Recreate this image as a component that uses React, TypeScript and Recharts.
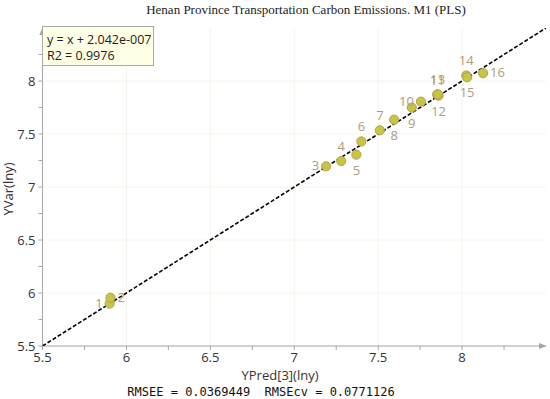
import { ScatterChart, Scatter, XAxis, YAxis, CartesianGrid } from "recharts"

// observation ids, predicted (x) and measured (y) values
const obsIds = ["1", "2", "3", "4", "5", "6", "7", "8", "9", "10", "11", "12", "13", "14", "15", "16"]
const predX = [5.9, 5.905, 7.19, 7.28, 7.37, 7.4, 7.51, 7.595, 7.7, 7.755, 7.852, 7.86, 7.855, 8.025, 8.03, 8.125]
const measY = [5.9, 5.955, 7.195, 7.245, 7.305, 7.43, 7.535, 7.635, 7.75, 7.805, 7.872, 7.862, 7.875, 8.052, 8.036, 8.074]
const labelSide = ["left", "right", "left", "top", "bottom", "top", "top", "bottom", "bottom", "left", "top", "bottom", "top", "top", "bottom", "right"]

// fitted line y = x + intercept
const slope = 1
const intercept = 2.042e-7
const fitX = [5.5, 8.5]

const ticks = [5.5, 5.75, 6, 6.25, 6.5, 6.75, 7, 7.25, 7.5, 7.75, 8, 8.25]
const majors = [5.5, 6, 6.5, 7, 7.5, 8]

const points = obsIds.map((id, i) => ({ id, x: predX[i], y: measY[i], side: labelSide[i] }))
const fitLine = fitX.map((x) => ({ x, y: slope * x + intercept }))

const sans = "'Open Sans', 'Noto Sans', sans-serif"
const axisColor = "#a6a6a6"

const fmt = (v: number) => (majors.includes(v) ? String(v) : "")

const PointShape = (props: any) => {
    const { cx, cy, payload } = props
    let tx = cx
    let ty = cy + 4
    let anchor = "middle"
    if (payload.side === "top") ty = cy - 10
    if (payload.side === "bottom") ty = cy + 20
    if (payload.side === "left") {
        tx = cx - 7
        anchor = "end"
    }
    if (payload.side === "right") {
        tx = cx + 7
        anchor = "start"
    }
    return (
        <g>
            <circle cx={cx} cy={cy} r={4.6} fill="#c8c53e" stroke="#b49e62" strokeWidth={1} />
            <text x={tx} y={ty} textAnchor={anchor} fill="#ae9c7e" fontSize={13} fontFamily={sans}>
                {payload.id}
            </text>
        </g>
    )
}

export default function App() {
    return (
        <div style={{ position: "absolute", left: 0, top: 0, width: 550, height: 399, background: "#fff" }}>
            <ScatterChart width={550} height={399} margin={{ top: 28, right: 4, bottom: 23, left: 0 }}>
                <defs>
                    <marker id="arr" viewBox="0 0 10 10" refX="9" refY="5" markerWidth="8" markerHeight="8" orient="auto-start-reverse" markerUnits="userSpaceOnUse">
                        <path d="M0,1 L10,5 L0,9 z" fill={axisColor} />
                    </marker>
                </defs>
                <CartesianGrid stroke="#f5f5ec" horizontalValues={majors} verticalValues={majors} />
                <XAxis
                    type="number"
                    dataKey="x"
                    domain={[5.5, 8.5]}
                    ticks={ticks}
                    tickFormatter={fmt}
                    allowDataOverflow
                    height={30}
                    tickSize={4}
                    tickMargin={3}
                    axisLine={{ stroke: axisColor, markerEnd: "url(#arr)" }}
                    tickLine={{ stroke: axisColor }}
                    tick={{ fill: "#333", fontSize: 13, fontFamily: sans }}
                />
                <YAxis
                    type="number"
                    dataKey="y"
                    domain={[5.5, 8.5]}
                    ticks={ticks}
                    tickFormatter={fmt}
                    allowDataOverflow
                    width={42.5}
                    tickSize={4}
                    tickMargin={3}
                    axisLine={{ stroke: axisColor, markerStart: "url(#arr)" }}
                    tickLine={{ stroke: axisColor }}
                    tick={{ fill: "#333", fontSize: 13, fontFamily: sans }}
                />
                <Scatter
                    data={fitLine}
                    line={{ stroke: "#000", strokeWidth: 1.6, strokeDasharray: "4 2" }}
                    shape={() => null}
                    isAnimationActive={false}
                />
                <Scatter data={points} shape={PointShape} isAnimationActive={false} />
            </ScatterChart>

            <div style={{ position: "absolute", left: 0, width: 612, top: 2, textAlign: "center", fontFamily: "'Liberation Serif', serif", fontSize: 13, color: "#222" }}>
                Henan Province Transportation Carbon Emissions. M1 (PLS)
            </div>
            <div
                style={{
                    position: "absolute",
                    left: 42,
                    top: 26,
                    width: 112,
                    height: 40,
                    background: "#ffffe6",
                    border: "1px solid #a8a8a8",
                    fontFamily: sans,
                    fontSize: 12.5,
                    lineHeight: "16px",
                    color: "#222",
                    padding: "5px 0 0 4px",
                    boxSizing: "border-box",
                }}
            >
                <div>y = x + 2.042e-007</div>
                <div>R2 = 0.9976</div>
            </div>
            <div style={{ position: "absolute", left: 180, width: 200, top: 368, lineHeight: "14px", textAlign: "center", fontFamily: sans, fontSize: 13, color: "#333" }}>
                YPred[3](lny)
            </div>
            <div style={{ position: "absolute", left: -42, width: 100, top: 180, textAlign: "center", fontFamily: sans, fontSize: 13, color: "#333", transform: "rotate(-90deg)" }}>
                YVar(lny)
            </div>
            <div style={{ position: "absolute", left: 61, width: 400, top: 386, lineHeight: "13px", textAlign: "center", fontFamily: "'DejaVu Sans Mono', monospace", fontSize: 12, color: "#111", whiteSpace: "pre" }}>
                RMSEE = 0.0369449  RMSEcv = 0.0771126
            </div>
        </div>
    )
}
